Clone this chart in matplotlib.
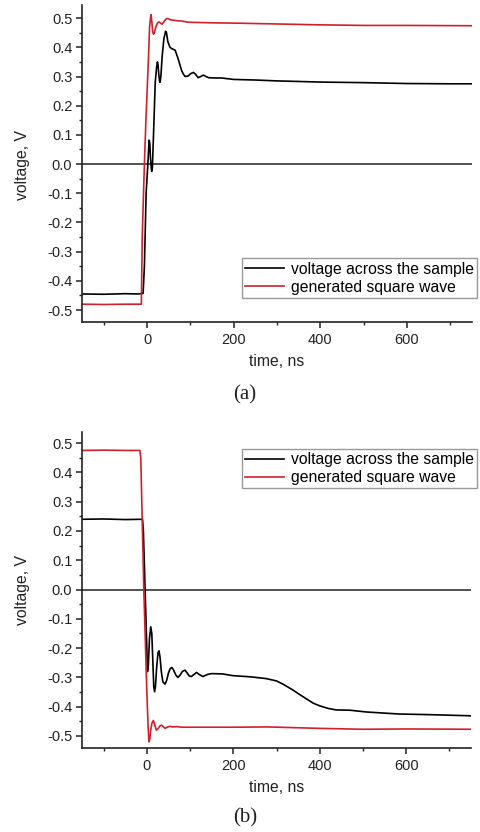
import matplotlib
matplotlib.use('Agg')
import matplotlib.pyplot as plt
from matplotlib.ticker import MultipleLocator

plt.rcParams['font.family'] = ['Liberation Sans', 'DejaVu Sans']

# panel (a): rising edge
a_sq_t = [-150, -100, -50, -13, -11, -6, -3, 3, 6, 8, 9.5, 11, 13, 15, 17, 20, 24, 28,
          31, 35, 40, 44, 47, 51, 55, 61, 70, 80, 95, 120, 150, 200, 300, 400, 500,
          600, 750]
a_sq_v = [-0.48, -0.481, -0.48, -0.48, -0.25, 0.0, 0.13, 0.35, 0.47, 0.5, 0.512,
          0.49, 0.455, 0.445, 0.45, 0.468, 0.483, 0.487, 0.483, 0.479, 0.49, 0.497,
          0.499, 0.497, 0.494, 0.493, 0.491, 0.49, 0.486, 0.485, 0.484, 0.483, 0.48,
          0.477, 0.475, 0.475, 0.474]
a_smp_t = [-150, -100, -50, -20, -9, -6, -2, 2, 4, 5, 6.5, 8, 10, 11, 12.5, 15, 19,
           22, 24, 25.5, 27, 29, 30, 32, 35, 39, 43, 45, 48, 53, 58, 65, 72, 80, 84,
           88, 95, 101, 107, 112, 118, 124, 130, 136, 142, 155, 172, 200, 250, 300,
           400, 500, 600, 700, 750]
a_smp_v = [-0.445, -0.446, -0.444, -0.445, -0.443, -0.35, -0.1, 0.0, 0.06, 0.082,
           0.07, 0.02, -0.015, -0.025, -0.01, 0.1, 0.28, 0.33, 0.35, 0.34, 0.31,
           0.285, 0.28, 0.3, 0.37, 0.43, 0.455, 0.45, 0.42, 0.40, 0.395, 0.39, 0.36,
           0.32, 0.308, 0.30, 0.302, 0.31, 0.314, 0.308, 0.296, 0.3, 0.305, 0.3,
           0.296, 0.295, 0.295, 0.29, 0.288, 0.285, 0.281, 0.279, 0.276, 0.275, 0.275]

# panel (b): falling edge
b_sq_t = [-150, -100, -50, -16, -14, -7, 0, 3, 5, 7, 9, 12, 15, 18, 22, 26, 30, 34,
          38, 42, 47, 53, 60, 70, 80, 120, 200, 280, 400, 500, 600, 750]
b_sq_v = [0.475, 0.476, 0.475, 0.475, 0.45, 0.0, -0.35, -0.47, -0.52, -0.51, -0.48,
          -0.455, -0.447, -0.46, -0.48, -0.475, -0.466, -0.463, -0.468, -0.474,
          -0.47, -0.467, -0.469, -0.468, -0.47, -0.47, -0.47, -0.469, -0.474,
          -0.477, -0.476, -0.477]
b_smp_t = [-150, -100, -50, -10, -8, -4, 0, 1.5, 3.5, 6, 9, 11.5, 14, 16, 18, 20,
           23, 26, 28, 30.5, 33.5, 37, 42, 46, 50, 54, 58, 62, 67, 72, 77, 82, 88,
           93, 98, 103, 109, 115, 121, 130, 140, 150, 175, 199, 240, 276, 300, 315,
           338, 350, 369, 385, 400, 420, 438, 470, 508, 584, 650, 748]
b_smp_v = [0.24, 0.241, 0.239, 0.24, 0.2, 0.0, -0.2, -0.28, -0.26, -0.17, -0.127,
           -0.15, -0.25, -0.33, -0.349, -0.33, -0.26, -0.215, -0.209, -0.23, -0.28,
           -0.315, -0.323, -0.31, -0.285, -0.27, -0.266, -0.275, -0.292, -0.30,
           -0.292, -0.28, -0.275, -0.284, -0.295, -0.297, -0.29, -0.283, -0.29,
           -0.297, -0.29, -0.287, -0.288, -0.294, -0.298, -0.304, -0.312, -0.323,
           -0.343, -0.355, -0.373, -0.388, -0.397, -0.406, -0.411, -0.412, -0.418,
           -0.425, -0.427, -0.431]

labels = ['voltage across the sample', 'generated square wave']
RED = '#d0202c'
W, H = 481, 832

fig = plt.figure(figsize=(W / 100, H / 100), dpi=100)


def make_axes(top_px, bottom_px, right_px):
    ax = fig.add_axes([82 / W, 1 - bottom_px / H, (right_px - 82) / W,
                       (bottom_px - top_px) / H])
    ax.spines['top'].set_visible(False)
    ax.spines['right'].set_visible(False)
    for s in ('left', 'bottom'):
        ax.spines[s].set_linewidth(1.2)
        ax.spines[s].set_color('#222222')
    ax.set_xlim(-150, 750)
    ax.xaxis.set_major_locator(MultipleLocator(200))
    ax.xaxis.set_minor_locator(MultipleLocator(100))
    ax.yaxis.set_major_locator(MultipleLocator(0.1))
    ax.yaxis.set_minor_locator(MultipleLocator(0.05))
    ax.tick_params(which='major', direction='out', length=4, width=1.1,
                   labelsize=10.5, color='#222222', labelcolor='#222222')
    ax.tick_params(which='minor', direction='out', length=2.5, width=1.0,
                   color='#222222')
    ax.tick_params(axis='x', pad=4)
    ax.tick_params(axis='y', pad=3)
    ax.yaxis.set_major_formatter(plt.FuncFormatter(lambda v, p: f'{v:.1f}'.replace('-0.0', '0.0')))
    ax.axhline(0, color='#222222', lw=1.1, zorder=1)
    return ax


def add_legend(ax, loc, anchor):
    leg = ax.legend(loc=loc, bbox_to_anchor=anchor, fontsize=11.3, frameon=True,
                    fancybox=False, edgecolor='#999999', framealpha=1,
                    handlelength=2.5, handletextpad=0.4, labelspacing=0.2,
                    borderpad=0.2, borderaxespad=0)
    leg.get_frame().set_linewidth(1.0)


# (a)
ax1 = make_axes(5, 322, 472)
ax1.set_ylim(-0.541, 0.545)
ax1.plot(a_smp_t, a_smp_v, color='black', lw=1.2, label=labels[0])
ax1.plot(a_sq_t, a_sq_v, color=RED, lw=1.2, label=labels[1])
add_legend(ax1, 'lower right', (1.012, 0.076))
fig.text(22 / W, 1 - 165 / H, 'voltage, V', rotation=90, ha='center', va='center',
         fontsize=11.3, color='#222222')
fig.text(277 / W, 1 - 362 / H, 'time, ns', ha='center', va='center',
         fontsize=11.3, color='#222222')
fig.text(245 / W, 1 - 395 / H, '(a)', ha='center', va='center', fontsize=15,
         family='Liberation Serif', color='#222222')

# (b)
ax2 = make_axes(432, 748, 471)
ax2.set_ylim(-0.541, 0.538)
ax2.plot(b_smp_t, b_smp_v, color='black', lw=1.2, label=labels[0])
ax2.plot(b_sq_t, b_sq_v, color=RED, lw=1.2, label=labels[1])
add_legend(ax2, 'upper right', (1.015, 0.946))
fig.text(22 / W, 1 - 590 / H, 'voltage, V', rotation=90, ha='center', va='center',
         fontsize=11.3, color='#222222')
fig.text(277 / W, 1 - 788 / H, 'time, ns', ha='center', va='center',
         fontsize=11.3, color='#222222')
fig.text(245 / W, 1 - 818 / H, '(b)', ha='center', va='center', fontsize=15,
         family='Liberation Serif', color='#222222')

fig.savefig('out.png', dpi=100, facecolor='white')
